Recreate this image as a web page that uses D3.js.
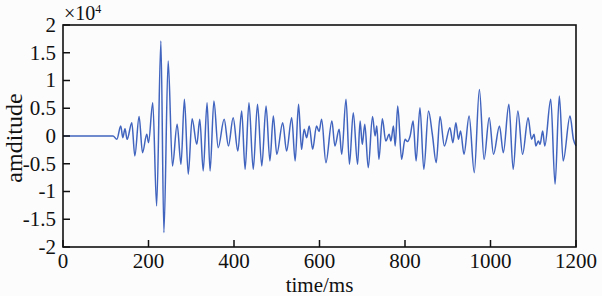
<!DOCTYPE html>
<html>
<head>
<meta charset="utf-8">
<script src="https://cdn.jsdelivr.net/npm/d3@7"></script>
<style>
  body { margin: 0; background: #fcfcfc; }
</style>
</head>
<body>
<div id="chart"></div>
<script>
// time (ms) and amplitude (x10^4), one point per peak/trough
const timeMs = [0, 117, 126, 135, 140, 145, 150, 161, 168, 178, 186, 196, 200, 210, 219, 229, 236, 246, 256, 267,
    276, 284, 293, 302, 313, 320, 328, 337, 344, 353, 363, 377, 387, 398, 409, 418, 426, 435, 445, 455,
    465, 475, 484, 492, 500, 514, 523, 535, 543, 551, 558, 564, 570, 576, 584, 593, 599, 605, 615, 629,
    636, 646, 652, 662, 670, 679, 689, 695, 700, 706, 714, 724, 730, 734, 739, 747, 755, 763, 767, 773,
    777, 783, 792, 800, 806, 812, 819, 826, 835, 844, 855, 864, 873, 882, 892, 905, 912, 919, 925, 930,
    938, 950, 962, 974, 985, 997, 1007, 1021, 1030, 1043, 1053, 1064, 1075, 1088, 1096, 1102, 1106, 1112, 1116, 1122,
    1127, 1141, 1151, 1161, 1170, 1186, 1194, 1200];
const amplitude = [0, 0, -0.06, 0.18, -0.03, 0.13, -0.06, 0.24, -0.36, 0.35, -0.30, 0.03, -0.12, 0.60, -1.26, 1.71, -1.74, 1.35, -0.54, 0.21,
    -0.51, 0.66, -0.69, 0.31, -0.15, 0.30, -0.63, 0.60, -0.63, 0.63, -0.21, 0.30, -0.18, 0.33, -0.27, 0.45, -0.60, 0.60, -0.60, 0.57,
    -0.54, 0.54, -0.45, 0.36, -0.33, 0.24, -0.27, 0.33, -0.45, 0.57, -0.24, 0.12, -0.03, 0.18, -0.24, 0.18, 0.08, 0.30, -0.48, 0.27,
    -0.18, 0.12, -0.33, 0.66, -0.51, 0.42, -0.51, 0.27, -0.15, 0.21, -0.57, 0.35, 0.00, 0.18, -0.42, 0.31, -0.09, 0.03, -0.09, 0.18,
    -0.18, 0.54, -0.42, -0.06, -0.10, 0.00, 0.27, -0.45, 0.51, -0.60, 0.45, 0.03, -0.48, 0.35, -0.18, 0.15, -0.12, 0.24, -0.06, 0.09,
    -0.33, 0.36, -0.66, 0.84, -0.42, 0.33, -0.33, 0.18, -0.30, 0.57, -0.60, 0.45, -0.33, 0.33, -0.06, 0.03, -0.18, -0.09, -0.15, 0.09,
    -0.18, 0.66, -0.87, 0.72, -0.45, 0.36, -0.06, -0.18];
const xTicks = [0, 200, 400, 600, 800, 1000, 1200];
const yTicks = [-2, -1.5, -1, -0.5, 0, 0.5, 1, 1.5, 2];

const width = 602, height = 296;
const margin = {top: 25, right: 26, bottom: 49, left: 63};
const serif = '"Liberation Serif", "Times New Roman", serif';

const svg = d3.select("#chart").append("svg")
    .attr("width", width)
    .attr("height", height)
    .attr("font-family", serif);

const x = d3.scaleLinear().domain([0, 1200]).range([margin.left, width - margin.right]);
const y = d3.scaleLinear().domain([-2, 2]).range([height - margin.bottom, margin.top]);

const data = timeMs.map((t, i) => ({t: t, v: amplitude[i]}));

// signal
const line = d3.line()
    .x(d => x(d.t))
    .y(d => y(d.v))
    .curve(d3.curveMonotoneX);

svg.append("path")
    .datum(data)
    .attr("fill", "none")
    .attr("stroke", "#4164bf")
    .attr("stroke-width", 1.5)
    .attr("d", line);

// inward ticks on left and bottom
svg.append("g").selectAll("line")
    .data(xTicks)
    .join("line")
    .attr("x1", d => x(d)).attr("x2", d => x(d))
    .attr("y1", y(-2)).attr("y2", y(-2) - 7)
    .attr("stroke", "#111").attr("stroke-width", 1.5);

svg.append("g").selectAll("line")
    .data(yTicks)
    .join("line")
    .attr("x1", x(0)).attr("x2", x(0) + 7)
    .attr("y1", d => y(d)).attr("y2", d => y(d))
    .attr("stroke", "#111").attr("stroke-width", 1.5);

// tick labels
svg.append("g").selectAll("text")
    .data(xTicks)
    .join("text")
    .attr("x", d => x(d))
    .attr("y", y(-2) + 21)
    .attr("text-anchor", "middle")
    .attr("font-size", 21)
    .attr("fill", "#111")
    .text(d => d);

svg.append("g").selectAll("text")
    .data(yTicks)
    .join("text")
    .attr("x", x(0) - 7)
    .attr("y", d => y(d))
    .attr("dy", "0.33em")
    .attr("text-anchor", "end")
    .attr("font-size", 21)
    .attr("fill", "#111")
    .text(d => d);

// frame
svg.append("rect")
    .attr("x", x(0))
    .attr("y", y(2))
    .attr("width", x(1200) - x(0))
    .attr("height", y(-2) - y(2))
    .attr("fill", "none")
    .attr("stroke", "#111")
    .attr("stroke-width", 1.6);

// exponent label
const expo = svg.append("text")
    .attr("x", x(0) + 1)
    .attr("y", 20)
    .attr("font-size", 20)
    .attr("fill", "#111");
expo.append("tspan").text("×10");
expo.append("tspan").attr("dy", -7).attr("font-size", 12).text("4");

// axis titles
svg.append("text")
    .attr("transform", `translate(22, ${y(0) + 2}) rotate(-90)`)
    .attr("text-anchor", "middle")
    .attr("font-size", 24)
    .attr("fill", "#111")
    .text("amditude");

svg.append("text")
    .attr("x", (x(0) + x(1200)) / 2)
    .attr("y", 292)
    .attr("text-anchor", "middle")
    .attr("font-size", 21)
    .attr("fill", "#111")
    .text("time/ms");
</script>
</body>
</html>
